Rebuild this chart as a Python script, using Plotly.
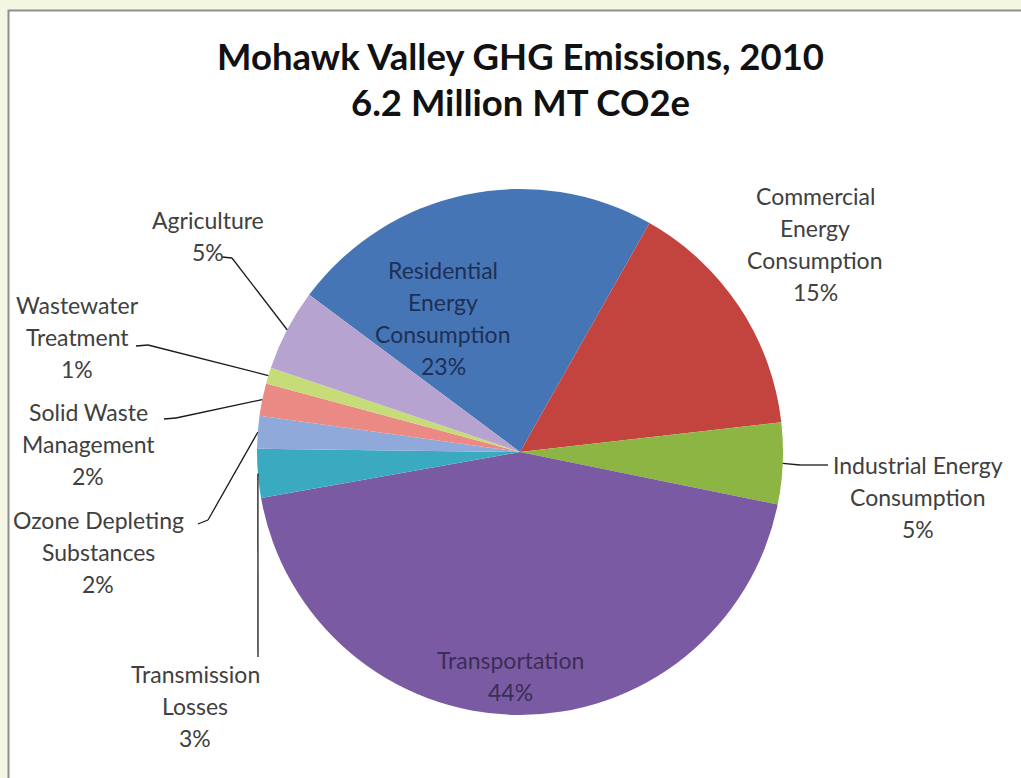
import math
import plotly.graph_objects as go

# Regional greenhouse-gas inventory, share of total emissions (%)
sectors = [
    "Residential\nEnergy\nConsumption",
    "Commercial\nEnergy\nConsumption",
    "Industrial Energy\nConsumption",
    "Transportation",
    "Transmission\nLosses",
    "Ozone Depleting\nSubstances",
    "Solid Waste\nManagement",
    "Wastewater\nTreatment",
    "Agriculture",
]
shares = [23, 15, 5, 44, 3, 2, 2, 1, 5]
colors = ["#4675B5", "#C3433E", "#8DB543", "#7A5BA3", "#3AAAC0",
          "#8FA9DA", "#EB8A84", "#C6DC78", "#B7A3D0"]

title_lines = ["Mohawk Valley GHG Emissions, 2010", "6.2 Million MT CO2e"]

W, H = 1021, 778
CX, CY, R = 520, 452, 263          # pie centre and radius in pixels
ROTATION = -53.3                   # start angle of the first slice

# label placement: (centre x, first-line y, text colour, leader elbow, tail end)
label_layout = [
    (443, 270, "#1F2F55", None, None),
    (815, 196, "#404040", None, None),
    (918, 465, "#404040", (800, 465), (828, 465)),
    (510, 660, "#3A2E55", None, None),
    (195, 674, "#404040", (258, 657), (258, 657)),
    (98, 520, "#404040", (208, 520), (198, 524)),
    (88, 412, "#404040", (176, 418), (164, 419)),
    (77, 305, "#404040", (148, 345), (136, 346)),
    (208, 220, "#404040", (232, 258), (222, 257)),
]
LINE_GAP = 32

fig = go.Figure(go.Pie(
    labels=[s.replace("\n", " ") for s in sectors],
    values=shares,
    sort=False,
    direction="clockwise",
    rotation=ROTATION,
    marker=dict(colors=colors, line=dict(width=0)),
    textinfo="none",
    hoverinfo="label+percent",
    showlegend=False,
    domain=dict(x=[(CX - R) / W, (CX + R) / W],
                y=[1 - (CY + R) / H, 1 - (CY - R) / H]),
))

def px(x, y):
    return x / W, 1 - y / H

annotations = []
shapes = [dict(type="rect", xref="paper", yref="paper",
               x0=8.5 / W, x1=1.05, y0=-0.05, y1=1 - 10.5 / H,
               fillcolor="white", line=dict(color="#8E8E8E", width=2),
               layer="below")]

total = sum(shares)
start = ROTATION
for name, val, (lx, ly, col, elbow, tail) in zip(sectors, shares, label_layout):
    mid = math.radians(start + 360 * val / total / 2)
    start += 360 * val / total
    lines = name.split("\n") + [f"{val}%"]
    for i, line in enumerate(lines):
        x, y = px(lx, ly + i * LINE_GAP)
        annotations.append(dict(text=line, x=x, y=y, xref="paper", yref="paper",
                                showarrow=False, xanchor="center", yanchor="middle",
                                font=dict(family="Lato", size=23, color=col)))
    if elbow is not None:
        ex, ey = CX + R * math.sin(mid), CY - R * math.cos(mid)
        pts = [(ex, ey), elbow, tail]
        for (x0, y0), (x1, y1) in zip(pts[:-1], pts[1:]):
            if (x0, y0) == (x1, y1):
                continue
            a0, b0 = px(x0, y0)
            a1, b1 = px(x1, y1)
            shapes.append(dict(type="line", xref="paper", yref="paper",
                               x0=a0, y0=b0, x1=a1, y1=b1,
                               line=dict(color="#1A1A1A", width=1.3)))

for i, t in enumerate(title_lines):
    x, y = px(520, 56 + i * 46)
    annotations.append(dict(text=f"<b>{t}</b>", x=x, y=y, xref="paper", yref="paper",
                            showarrow=False, xanchor="center", yanchor="middle",
                            font=dict(family="Lato", size=36.5, color="#111111")))

fig.update_layout(
    width=W, height=H,
    margin=dict(l=0, r=0, t=0, b=0),
    paper_bgcolor="#F3F6E3",
    annotations=annotations,
    shapes=shapes,
)

fig.write_html("out.html")
